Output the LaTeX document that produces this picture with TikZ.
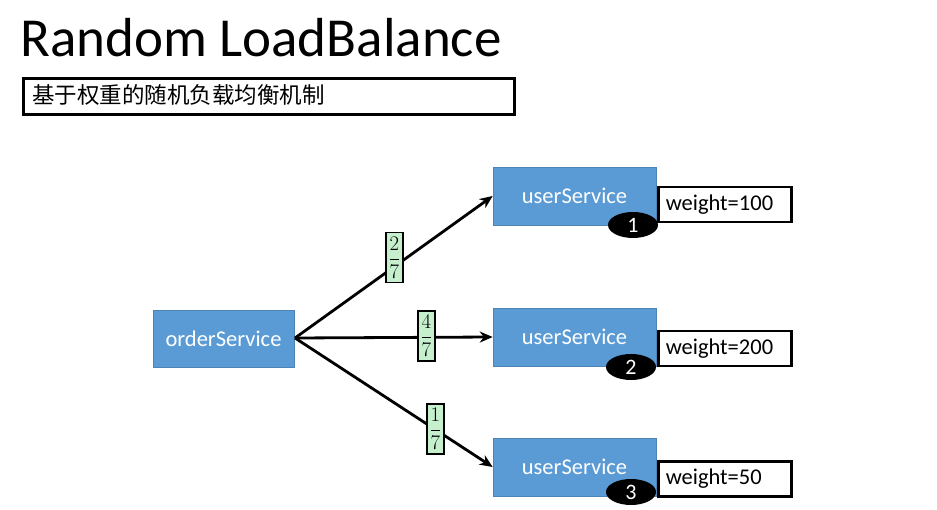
\documentclass[tikz,border=0pt]{standalone}
\usepackage{fontspec}
\setmainfont{Carlito}
\newfontfamily\cjk{Noto Sans CJK SC}
\usetikzlibrary{arrows.meta,shapes.geometric}
\definecolor{svcblue}{HTML}{5B9BD5}
\definecolor{fracgreen}{HTML}{C6EFCE}
\tikzset{
  svc/.style={draw=svcblue!85!black, line width=0.6pt, fill=svcblue, text=white, font=\fontsize{22.5}{26}\selectfont, inner sep=0pt},
  wbox/.style={draw=black, line width=2.5pt, fill=white, font=\fontsize{22.5}{26}\selectfont, inner sep=0pt, minimum width=133pt, minimum height=35pt, anchor=north west, text width=118pt, align=left},
  badge/.style={ellipse, fill=black, text=white, minimum width=50pt, minimum height=26pt, inner sep=0pt, font=\fontsize{22}{24}\selectfont},
  conn/.style={line width=2.8pt, -{Stealth[length=13pt,width=11pt]}},
  frac/.style={draw=black, line width=1.5pt, fill=fracgreen, inner sep=0pt, minimum width=17pt, minimum height=50pt, font=\fontsize{20}{24}\selectfont}
}
\begin{document}
\begin{tikzpicture}[x=1pt,y=-1pt]
\useasboundingbox (0,0) rectangle (937,510);
\node[anchor=base west, font=\fontsize{55}{60}\selectfont, inner sep=0pt] (title) at (20,57) {Random LoadBalance};
\node[draw=black, line width=2.8pt, anchor=north west, minimum width=491pt, minimum height=36pt, inner sep=0pt] (sub) at (22,77) {};
\node[anchor=west, font=\cjk\fontsize{22.5}{26}\selectfont, inner sep=0pt] (subtext) at (32,95) {基于权重的随机负载均衡机制};

\node[svc, minimum width=141pt, minimum height=57pt] (order) at (223.5,338.5) {orderService};
\node[svc, minimum width=163pt, minimum height=58pt] (u1) at (574.5,196) {userService};
\node[svc, minimum width=163pt, minimum height=58pt] (u2) at (574.5,337) {userService};
\node[svc, minimum width=163pt, minimum height=58pt] (u3) at (574.5,467) {userService};

\node[wbox] (w1) at (657,186) {weight=100};
\node[wbox] (w2) at (657,330) {weight=200};
\node[wbox] (w3) at (657,460) {weight=50};

\node[badge] (b1) at (633,225) {1};
\node[badge] (b2) at (631,367) {2};
\node[badge] (b3) at (631,492) {3};

\coordinate (o) at (295,338);
\draw[conn] (o) -- (u1.west);
\draw[conn] (o) -- (u2.west);
\draw[conn] (o) -- (u3.west);

\node[frac] (f1) at (394.5,257.5) {$\displaystyle\frac{2}{7}$};
\node[frac] (f2) at (426.5,336) {$\displaystyle\frac{4}{7}$};
\node[frac] (f3) at (435.5,429) {$\displaystyle\frac{1}{7}$};
\end{tikzpicture}
\end{document}
